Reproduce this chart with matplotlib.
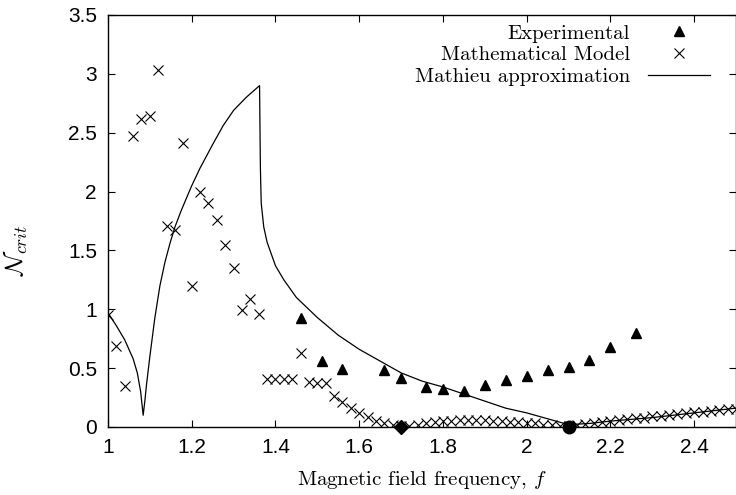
import numpy as np
import matplotlib
matplotlib.use('Agg')
import matplotlib.pyplot as plt
from matplotlib.ticker import FuncFormatter

# experimental points
exp_f = [1.46, 1.51, 1.56, 1.66, 1.70, 1.76, 1.80, 1.85, 1.90, 1.95,
         2.00, 2.05, 2.10, 2.15, 2.20, 2.26]
exp_n = [0.93, 0.56, 0.49, 0.48, 0.42, 0.34, 0.32, 0.31, 0.36, 0.40,
         0.43, 0.48, 0.51, 0.57, 0.68, 0.80]

# mathematical model
model_f = [1.00, 1.02, 1.04, 1.06, 1.08, 1.10, 1.12, 1.14, 1.16, 1.18,
           1.20, 1.22, 1.24, 1.26, 1.28, 1.30, 1.32, 1.34, 1.36, 1.38,
           1.40, 1.42, 1.44, 1.46, 1.48, 1.50, 1.52, 1.54, 1.56, 1.58,
           1.60, 1.62, 1.64, 1.66, 1.68, 1.70, 1.72, 1.74, 1.76, 1.78,
           1.80, 1.82, 1.84, 1.86, 1.88, 1.90, 1.92, 1.94, 1.96, 1.98,
           2.00, 2.02, 2.04, 2.06, 2.08, 2.10, 2.12, 2.14, 2.16, 2.18,
           2.20, 2.22, 2.24, 2.26, 2.28, 2.30, 2.32, 2.34, 2.36, 2.38,
           2.40, 2.42, 2.44, 2.46, 2.48, 2.50]
model_n = [0.95, 0.69, 0.35, 2.47, 2.62, 2.64, 3.03, 1.71, 1.67, 2.41,
           1.20, 2.00, 1.90, 1.76, 1.55, 1.35, 0.99, 1.09, 0.96, 0.41,
           0.41, 0.41, 0.41, 0.63, 0.38, 0.37, 0.37, 0.26, 0.21, 0.16,
           0.12, 0.085, 0.055, 0.03, 0.015, 0.005, 0.01, 0.02, 0.03, 0.04,
           0.05, 0.055, 0.06, 0.06, 0.06, 0.06, 0.055, 0.05, 0.045, 0.04,
           0.035, 0.03, 0.02, 0.015, 0.01, 0.01, 0.015, 0.025, 0.035, 0.045,
           0.05, 0.06, 0.065, 0.075, 0.08, 0.09, 0.095, 0.105, 0.11, 0.12,
           0.125, 0.13, 0.14, 0.145, 0.15, 0.155]

# Mathieu approximation curve
mathieu_f = [1.000, 1.020, 1.040, 1.060, 1.070, 1.078, 1.084, 1.088, 1.092,
             1.100, 1.112, 1.124, 1.136, 1.148, 1.160, 1.175, 1.200, 1.220,
             1.250, 1.275, 1.300, 1.330, 1.362, 1.364, 1.366, 1.372, 1.380,
             1.400, 1.420, 1.450, 1.500, 1.550, 1.600, 1.650, 1.700, 1.750,
             1.800, 1.850, 1.900, 1.950, 2.000, 2.050, 2.100, 2.150, 2.200,
             2.300, 2.400, 2.500]
mathieu_n = [0.97, 0.86, 0.74, 0.58, 0.46, 0.30, 0.10, 0.22, 0.36,
             0.60, 0.93, 1.20, 1.40, 1.56, 1.70, 1.84, 2.05, 2.20,
             2.40, 2.56, 2.69, 2.80, 2.90, 2.20, 1.90, 1.70, 1.57,
             1.37, 1.25, 1.10, 0.93, 0.78, 0.66, 0.56, 0.46, 0.39,
             0.34, 0.28, 0.22, 0.16, 0.12, 0.07, 0.02, 0.03, 0.05,
             0.08, 0.12, 0.16]

# highlighted points on the axis
diamond_f = [1.70]
diamond_n = [0.0]
dot_f = [2.10]
dot_n = [0.0]

x_ticks = [1, 1.2, 1.4, 1.6, 1.8, 2, 2.2, 2.4]
y_ticks = [0, 0.5, 1, 1.5, 2, 2.5, 3, 3.5]

plt.rcParams['mathtext.fontset'] = 'cm'
plt.rcParams['font.family'] = ['Liberation Sans', 'DejaVu Sans']
serif = 'cmr10'

fig = plt.figure(figsize=(7.36, 4.95), dpi=100)
ax = fig.add_axes([108 / 736, 68 / 495, 628 / 736, 412 / 495])

ax.plot(exp_f, exp_n, linestyle='none', marker='^', markersize=7,
        color='black', label='Experimental')
ax.plot(model_f, model_n, linestyle='none', marker='x', markersize=7.5,
        markeredgewidth=0.8, color='black', label='Mathematical Model')
ax.plot(mathieu_f, mathieu_n, color='black', linewidth=0.9,
        label='Mathieu approximation')
ax.plot(diamond_f, diamond_n, linestyle='none', marker='D', markersize=7.5,
        color='black', clip_on=False, zorder=5)
ax.plot(dot_f, dot_n, linestyle='none', marker='o', markersize=9,
        color='black', clip_on=False, zorder=5)

ax.set_xlim(1, 2.5)
ax.set_ylim(0, 3.5)
ax.set_xticks(x_ticks)
ax.set_yticks(y_ticks)
fmt = FuncFormatter(lambda v, p: '%g' % v)
ax.xaxis.set_major_formatter(fmt)
ax.yaxis.set_major_formatter(fmt)
ax.tick_params(direction='in', length=5, width=0.8, top=True, right=True,
               labelsize=15, pad=8)
for s in ax.spines.values():
    s.set_linewidth(1.0)

ax.set_xlabel('Magnetic field frequency, $f$', fontsize=15, family=serif)
ax.set_ylabel(r'$\mathcal{N}_{crit}$', fontsize=18)
ax.yaxis.set_label_coords(-0.125, 0.43)
ax.xaxis.set_label_coords(0.5, -0.103)

leg = ax.legend(loc='upper right', bbox_to_anchor=(0.9586, 0.978),
                frameon=False, markerfirst=False, numpoints=1,
                handlelength=3.0, handletextpad=0.85, labelspacing=0.15,
                borderpad=0, borderaxespad=0,
                prop={'family': serif, 'size': 15})

fig.savefig('out.png', dpi=100)
